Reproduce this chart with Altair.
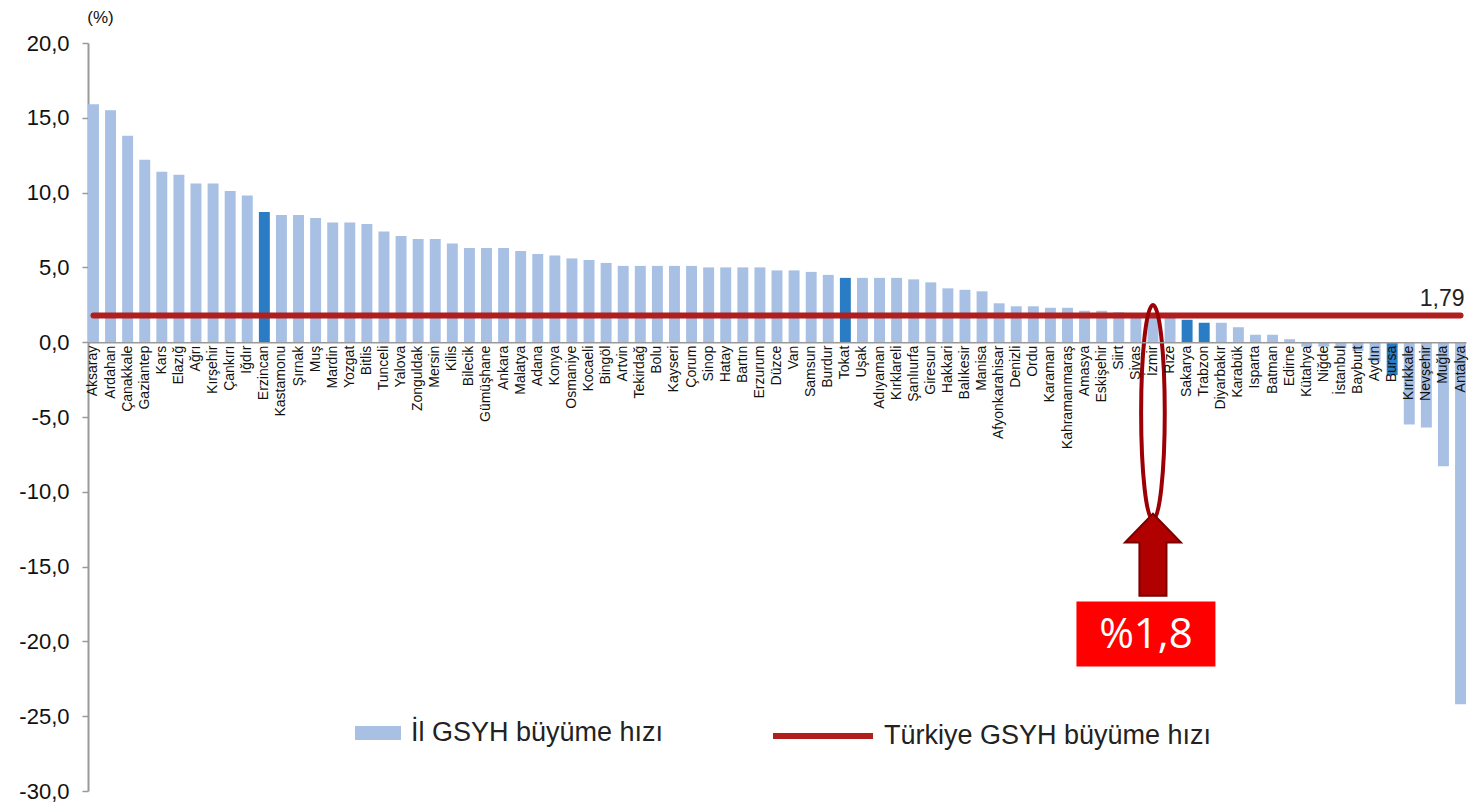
import altair as alt
import pandas as pd

iller = ["Aksaray", "Ardahan", "Çanakkale", "Gaziantep", "Kars", "Elazığ", "Ağrı", "Kırşehir", "Çankırı", "Iğdır",
         "Erzincan", "Kastamonu", "Şırnak", "Muş", "Mardin", "Yozgat", "Bitlis", "Tunceli", "Yalova", "Zonguldak",
         "Mersin", "Kilis", "Bilecik", "Gümüşhane", "Ankara", "Malatya", "Adana", "Konya", "Osmaniye", "Kocaeli",
         "Bingöl", "Artvin", "Tekirdağ", "Bolu", "Kayseri", "Çorum", "Sinop", "Hatay", "Bartın", "Erzurum",
         "Düzce", "Van", "Samsun", "Burdur", "Tokat", "Uşak", "Adıyaman", "Kırklareli", "Şanlıurfa", "Giresun",
         "Hakkari", "Balıkesir", "Manisa", "Afyonkarahisar", "Denizli", "Ordu", "Karaman", "Kahramanmaraş", "Amasya", "Eskişehir",
         "Siirt", "Sivas", "İzmir", "Rize", "Sakarya", "Trabzon", "Diyarbakır", "Karabük", "Isparta", "Batman",
         "Edirne", "Kütahya", "Niğde", "İstanbul", "Bayburt", "Aydın", "Bursa", "Kırıkkale", "Nevşehir", "Muğla", "Antalya"]

buyume = [15.9, 15.5, 13.8, 12.2, 11.4, 11.2, 10.6, 10.6, 10.1, 9.8,
          8.7, 8.5, 8.5, 8.3, 8.0, 8.0, 7.9, 7.4, 7.1, 6.9,
          6.9, 6.6, 6.3, 6.3, 6.3, 6.1, 5.9, 5.8, 5.6, 5.5,
          5.3, 5.1, 5.1, 5.1, 5.1, 5.1, 5.0, 5.0, 5.0, 5.0,
          4.8, 4.8, 4.7, 4.5, 4.3, 4.3, 4.3, 4.3, 4.2, 4.0,
          3.6, 3.5, 3.4, 2.6, 2.4, 2.4, 2.3, 2.3, 2.1, 2.1,
          2.0, 1.9, 1.8, 1.7, 1.5, 1.3, 1.3, 1.0, 0.5, 0.5,
          0.2, -0.3, -0.3, -0.4, -0.6, -1.3, -2.2, -5.5, -5.7, -8.3, -24.2]

vurgulu_iller = ["Erzincan", "Tokat", "Sakarya", "Trabzon", "Bursa"]

seri_il = "İl GSYH büyüme hızı"
seri_tr = "Türkiye GSYH büyüme hızı"
seri_vurgu = "vurgu"
turkiye_buyume = 1.79
turkiye_etiket = "1,79"

y_degerleri = [-30, -25, -20, -15, -10, -5, 0, 5, 10, 15, 20]

# annotation anchors (data space)
isaret_il = ["İzmir"]
elips_y = [-4.7]
ok_y = [-14.2]
kutu_y = [-19.5]
kutu_metin = ["%1,8"]

W, H = 1378, 748
Y_MIN, Y_MAX = -30, 20
ZERO_PX = H * Y_MAX / (Y_MAX - Y_MIN)

LIGHT = "#A7C0E4"
DARK = "#2A7DC4"
RED = "#B01E1E"

df = pd.DataFrame({
    "il": iller,
    "deger": buyume,
    "seri": [seri_vurgu if i in vurgulu_iller else seri_il for i in iller],
})
df_tr = pd.DataFrame({"x1": [iller[0]], "x2": [iller[-1]], "y": [turkiye_buyume], "seri": [seri_tr]})
df_lbl = pd.DataFrame({"x": [iller[-1]], "y": [turkiye_buyume], "t": [turkiye_etiket]})
df_el = pd.DataFrame({"x": isaret_il, "y": elips_y})
df_ok = pd.DataFrame({"x": isaret_il, "y": ok_y})
df_box = pd.DataFrame({"x": isaret_il, "y": kutu_y, "t": kutu_metin})

xscale = alt.Scale(domain=iller, paddingInner=0.36, paddingOuter=0)
yscale = alt.Scale(domain=[Y_MIN, Y_MAX], nice=False, zero=False)

x_axis = alt.Axis(
    title=None, orient="bottom", offset=-(H - ZERO_PX), grid=False,
    labelAngle=-90, labelAlign="right", labelBaseline="middle",
    labelFontSize=14, labelFont="Liberation Sans", labelColor="#111",
    labelPadding=3, labelOverlap=False, labelBound=False, labelFlush=False,
    ticks=False, domainColor="#999", domainWidth=1.5, zindex=1,
)
y_axis = alt.Axis(
    values=y_degerleri, grid=False,
    labelExpr="replace(replace(format(datum.value, '.1f'), '.', ','), '\u2212', '-')",
    labelFontSize=22, labelFont="Liberation Sans", labelColor="#111", labelPadding=13,
    tickSize=6, tickColor="#999", domainColor="#999", domainWidth=2, tickWidth=1.5,
    title="(%)", titleAngle=0, titleX=12, titleY=-26, titleAlign="center",
    titleBaseline="middle", titleFontSize=17, titleFontWeight="normal",
    titleFont="Liberation Sans", titleColor="#111",
)

bars = alt.Chart(df).mark_bar().encode(
    x=alt.X("il:N", scale=xscale, axis=x_axis, sort=iller),
    y=alt.Y("deger:Q", scale=yscale, axis=y_axis),
    fill=alt.Fill("seri:N", scale=alt.Scale(domain=[seri_il, seri_vurgu], range=[LIGHT, DARK]),
                  legend=alt.Legend(title=None, values=[seri_il], orient="none", legendX=267, legendY=667,
                                    symbolType="M-1,-0.3 L1,-0.3 L1,0.3 L-1,0.3 Z", symbolSize=2116,
                                    symbolStrokeWidth=0, labelFontSize=27, labelFont="Liberation Sans",
                                    labelColor="#222", labelOffset=10, labelLimit=0)),
)

line = alt.Chart(df_tr).mark_rule(strokeWidth=6, strokeCap="round").encode(
    x=alt.X("x1:N", scale=xscale),
    x2="x2:N",
    y=alt.Y("y:Q", scale=yscale),
    stroke=alt.Stroke("seri:N", scale=alt.Scale(domain=[seri_tr], range=[RED]),
                      legend=alt.Legend(title=None, orient="none", legendX=682, legendY=640,
                                        symbolType="stroke", symbolSize=10000, symbolStrokeWidth=6,
                                        labelFontSize=27, labelFont="Liberation Sans",
                                        labelColor="#222", labelOffset=8, labelLimit=0)),
)

lbl = alt.Chart(df_lbl).mark_text(align="right", baseline="alphabetic", dy=-9, xOffset=4,
                                  fontSize=23, font="Liberation Sans", color="#222").encode(
    x=alt.X("x:N", scale=xscale), y=alt.Y("y:Q", scale=yscale), text="t:N")

a = 0.11
k = 0.5523
ellipse_path = (f"M0,-1 C{k*a:.4f},-1 {a},-{k} {a},0 C{a},{k} {k*a:.4f},1 0,1 "
                f"C-{k*a:.4f},1 -{a},{k} -{a},0 C-{a},-{k} -{k*a:.4f},-1 0,-1 Z")
ellipse = alt.Chart(df_el).mark_point(shape=ellipse_path, size=46225, filled=False,
                                      stroke="#9C0006", strokeWidth=4, opacity=1).encode(
    x=alt.X("x:N", scale=xscale), y=alt.Y("y:Q", scale=yscale))

arrow_path = "M0,-1 L0.683,-0.293 L0.33,-0.293 L0.33,1 L-0.33,1 L-0.33,-0.293 L-0.683,-0.293 Z"
arrow = alt.Chart(df_ok).mark_point(shape=arrow_path, size=6724, filled=True, fill="#B00000",
                                    stroke="#7A0000", strokeWidth=2, opacity=1).encode(
    x=alt.X("x:N", scale=xscale), y=alt.Y("y:Q", scale=yscale))

box = alt.Chart(df_box).mark_point(shape="M-1,-0.468 L1,-0.468 L1,0.468 L-1,0.468 Z", size=19321,
                                   filled=True, fill="#FF0000", strokeWidth=0, opacity=1, xOffset=-7).encode(
    x=alt.X("x:N", scale=xscale), y=alt.Y("y:Q", scale=yscale))
box_text = alt.Chart(df_box).mark_text(fontSize=42, font="Open Sans", color="white", xOffset=-7,
                                       baseline="middle", align="center", dy=1).encode(
    x=alt.X("x:N", scale=xscale), y=alt.Y("y:Q", scale=yscale), text="t:N")

chart = alt.layer(bars, line, lbl, ellipse, arrow, box, box_text).resolve_legend(
    fill="independent", stroke="independent"
).properties(
    width=W, height=H, autosize="none", background="white",
    padding={"left": 80, "top": 35, "right": 8, "bottom": 12},
).configure_view(stroke=None)

chart.save("out.html", embed_options={"renderer": "svg", "actions": False})
